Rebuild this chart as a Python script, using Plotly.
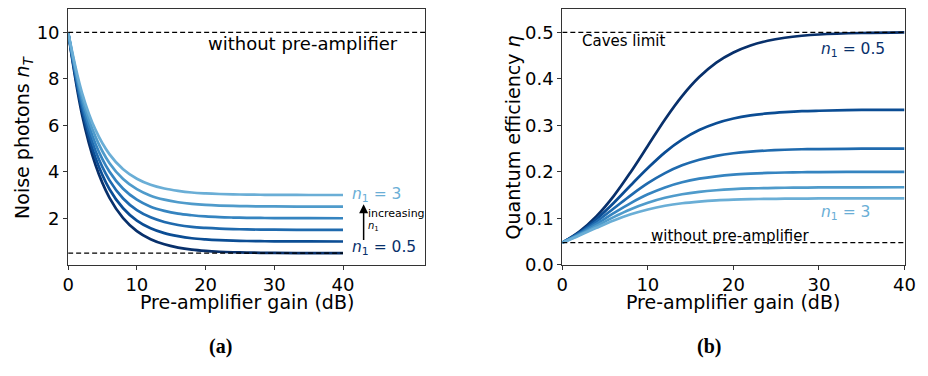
import plotly.graph_objects as go

# ---- data ----
gain_db = [0, 2, 4, 6, 8, 10, 12, 14, 16, 18, 20, 22, 24, 26, 28, 30, 35, 40]
n1_values = [0.5, 1, 1.5, 2, 2.5, 3]

noise_n05 = [10, 6.49, 4.28, 2.89, 2.01, 1.45, 1.10, 0.88, 0.74, 0.65, 0.595, 0.560, 0.538, 0.524, 0.515, 0.510, 0.503, 0.50]
noise_n10 = [10, 6.68, 4.58, 3.26, 2.43, 1.90, 1.57, 1.36, 1.23, 1.14, 1.090, 1.057, 1.036, 1.023, 1.014, 1.009, 1.003, 1.00]
noise_n15 = [10, 6.86, 4.88, 3.64, 2.85, 2.35, 2.04, 1.84, 1.71, 1.63, 1.585, 1.554, 1.534, 1.521, 1.513, 1.509, 1.503, 1.50]
noise_n20 = [10, 7.05, 5.18, 4.01, 3.27, 2.80, 2.50, 2.32, 2.20, 2.13, 2.080, 2.050, 2.032, 2.020, 2.013, 2.008, 2.003, 2.00]
noise_n25 = [10, 7.23, 5.49, 4.38, 3.69, 3.25, 2.97, 2.80, 2.69, 2.62, 2.575, 2.547, 2.530, 2.519, 2.512, 2.508, 2.502, 2.50]
noise_n30 = [10, 7.42, 5.79, 4.76, 4.11, 3.70, 3.44, 3.28, 3.18, 3.11, 3.070, 3.044, 3.028, 3.018, 3.011, 3.007, 3.002, 3.00]

eta_n05 = [0.0476, 0.0715, 0.1046, 0.1477, 0.1996, 0.256, 0.3126, 0.3628, 0.4037, 0.4348, 0.4566, 0.4717, 0.4817, 0.4883, 0.4926, 0.4953, 0.4985, 0.500]
eta_n10 = [0.0476, 0.0696, 0.0984, 0.133, 0.171, 0.208, 0.2418, 0.2690, 0.2897, 0.3044, 0.3145, 0.3212, 0.3255, 0.3283, 0.3303, 0.3313, 0.3330, 0.3333]
eta_n15 = [0.0476, 0.0679, 0.0929, 0.121, 0.1494, 0.1754, 0.1971, 0.2138, 0.2259, 0.2342, 0.2398, 0.2435, 0.2458, 0.2474, 0.2484, 0.2489, 0.2497, 0.250]
eta_n20 = [0.0476, 0.0662, 0.0880, 0.111, 0.1327, 0.1515, 0.1664, 0.1774, 0.1851, 0.1903, 0.1938, 0.1960, 0.1975, 0.1984, 0.1990, 0.1994, 0.1999, 0.200]
eta_n25 = [0.0476, 0.0647, 0.0835, 0.1025, 0.1194, 0.1333, 0.1440, 0.1516, 0.1568, 0.1603, 0.1626, 0.1641, 0.1650, 0.1656, 0.1660, 0.1663, 0.1666, 0.1667]
eta_n30 = [0.0476, 0.0631, 0.0795, 0.0951, 0.1085, 0.119, 0.1269, 0.1323, 0.1359, 0.1385, 0.1401, 0.1411, 0.1417, 0.1421, 0.1424, 0.1426, 0.1428, 0.1429]

noise_series = [noise_n05, noise_n10, noise_n15, noise_n20, noise_n25, noise_n30]
eta_series = [eta_n05, eta_n10, eta_n15, eta_n20, eta_n25, eta_n30]

noise_without = 10
noise_floor = 0.5
eta_without = 0.0476
caves_limit = 0.5

left_xticks = [0, 10, 20, 30, 40]
left_yticks = [2, 4, 6, 8, 10]
right_xticks = [0, 10, 20, 30, 40]
right_yticks = [0.0, 0.1, 0.2, 0.3, 0.4, 0.5]

colors = ["#08306b", "#0b4d94", "#1f6aae", "#3584c0", "#4f9bcb", "#6aaed6"]

FONT = "DejaVu Sans"

fig = go.Figure()

for ys, c in zip(noise_series, colors):
    fig.add_trace(go.Scatter(x=gain_db, y=ys, mode="lines",
                             line=dict(color=c, width=2.7, shape="spline", smoothing=1.0),
                             xaxis="x", yaxis="y", showlegend=False, hoverinfo="skip"))
for ys, c in zip(eta_series, colors):
    fig.add_trace(go.Scatter(x=gain_db, y=ys, mode="lines",
                             line=dict(color=c, width=2.7, shape="spline", smoothing=1.0),
                             xaxis="x2", yaxis="y2", showlegend=False, hoverinfo="skip"))

dash = dict(color="black", width=1.3, dash="5px,3px")
fig.add_trace(go.Scatter(x=[0, 52], y=[noise_without, noise_without], mode="lines", line=dash,
                         xaxis="x", yaxis="y", showlegend=False, hoverinfo="skip"))
fig.add_trace(go.Scatter(x=[0, 40], y=[noise_floor, noise_floor], mode="lines", line=dash,
                         xaxis="x", yaxis="y", showlegend=False, hoverinfo="skip"))
fig.add_trace(go.Scatter(x=[0, 40], y=[caves_limit, caves_limit], mode="lines", line=dash,
                         xaxis="x2", yaxis="y2", showlegend=False, hoverinfo="skip"))
fig.add_trace(go.Scatter(x=[0, 40], y=[eta_without, eta_without], mode="lines", line=dash,
                         xaxis="x2", yaxis="y2", showlegend=False, hoverinfo="skip"))

W, H = 928, 376
ytop = 1 - 9.3 / H
ybot = 1 - 272 / H

axis_common = dict(showline=True, linecolor="#333333", linewidth=1, mirror=True,
                   ticks="outside", ticklen=4, tickwidth=1, tickcolor="#333333",
                   showgrid=False, zeroline=False,
                   tickfont=dict(family=FONT, size=18, color="black"))

fig.update_layout(
    width=W, height=H,
    margin=dict(l=0, r=0, t=0, b=0),
    paper_bgcolor="white", plot_bgcolor="white",
    font=dict(family=FONT, color="black"),
    xaxis=dict(domain=[63.3 / W, 427.3 / W], range=[0, 52], tickvals=left_xticks,
               anchor="y", **axis_common),
    yaxis=dict(domain=[ybot, ytop], range=[0, 11], tickvals=left_yticks,
               anchor="x", **axis_common),
    xaxis2=dict(domain=[566.7 / W, 915.3 / W], range=[0, 40], tickvals=right_xticks,
                anchor="y2", **axis_common),
    yaxis2=dict(domain=[ybot, ytop], range=[0, 0.55], tickvals=right_yticks,
                tickformat=".1f", anchor="x2", **axis_common),
)


def centered(text, x, y, size, family=FONT, angle=0):
    return dict(text=text, xref="paper", yref="paper", x=x, y=y,
                xanchor="center", yanchor="middle", textangle=angle,
                showarrow=False, font=dict(family=family, size=size, color="black"))


ann = []
# axis titles
ann.append(centered("Pre-amplifier gain (dB)", 245.3 / W, 1 - 310 / H, 19))
ann.append(centered("Pre-amplifier gain (dB)", 741 / W, 1 - 310 / H, 19))
ann.append(centered("Noise photons <i>n</i><sub><i>T</i></sub>", 18 / W, 1 - 141 / H, 19, angle=-90))
ann.append(centered("Quantum efficiency <i>η</i>", 516.7 / W, 1 - 141 / H, 19, angle=-90))
# panel labels
ann.append(centered("<b>(a)</b>", 218 / W, 1 - 356 / H, 20, family="Liberation Serif"))
ann.append(centered("<b>(b)</b>", 716 / W, 1 - 356 / H, 20, family="Liberation Serif"))
# left panel texts
ann.append(dict(text="without pre-amplifier", xref="x", yref="y", x=20.1, y=9.5,
                xanchor="left", yanchor="middle", showarrow=False,
                font=dict(family=FONT, size=18)))
ann.append(dict(text="<i>n</i><sub>1</sub> = 3", xref="x", yref="y", x=41, y=3.0,
                xanchor="left", yanchor="middle", showarrow=False,
                font=dict(family=FONT, size=15.5, color=colors[5])))
ann.append(dict(text="<i>n</i><sub>1</sub> = 0.5", xref="x", yref="y", x=41, y=0.72,
                xanchor="left", yanchor="middle", showarrow=False,
                font=dict(family=FONT, size=15.5, color=colors[0])))
ann.append(dict(text="", xref="x", yref="y", x=43, y=2.6, axref="x", ayref="y",
                ax=43, ay=1.0, showarrow=True, arrowhead=2, arrowsize=1.2,
                arrowwidth=1.5, arrowcolor="black"))
ann.append(dict(text="increasing", xref="x", yref="y", x=43.4, y=2.2,
                xanchor="left", yanchor="middle", showarrow=False,
                font=dict(family=FONT, size=11)))
ann.append(dict(text="<i>n</i><sub>1</sub>", xref="x", yref="y", x=43.4, y=1.65,
                xanchor="left", yanchor="middle", showarrow=False,
                font=dict(family=FONT, size=10)))
# right panel texts
ann.append(dict(text="Caves limit", xref="x2", yref="y2", x=2.1, y=0.482,
                xanchor="left", yanchor="middle", showarrow=False,
                font=dict(family=FONT, size=15)))
ann.append(dict(text="<i>n</i><sub>1</sub> = 0.5", xref="x2", yref="y2", x=30, y=0.461,
                xanchor="left", yanchor="middle", showarrow=False,
                font=dict(family=FONT, size=15.5, color=colors[0])))
ann.append(dict(text="<i>n</i><sub>1</sub> = 3", xref="x2", yref="y2", x=30, y=0.111,
                xanchor="left", yanchor="middle", showarrow=False,
                font=dict(family=FONT, size=15.5, color=colors[5])))
ann.append(dict(text="without pre-amplifier", xref="x2", yref="y2", x=10.1, y=0.061,
                xanchor="left", yanchor="middle", showarrow=False,
                font=dict(family=FONT, size=15)))

fig.update_layout(annotations=ann)
fig.write_html("out.html")
